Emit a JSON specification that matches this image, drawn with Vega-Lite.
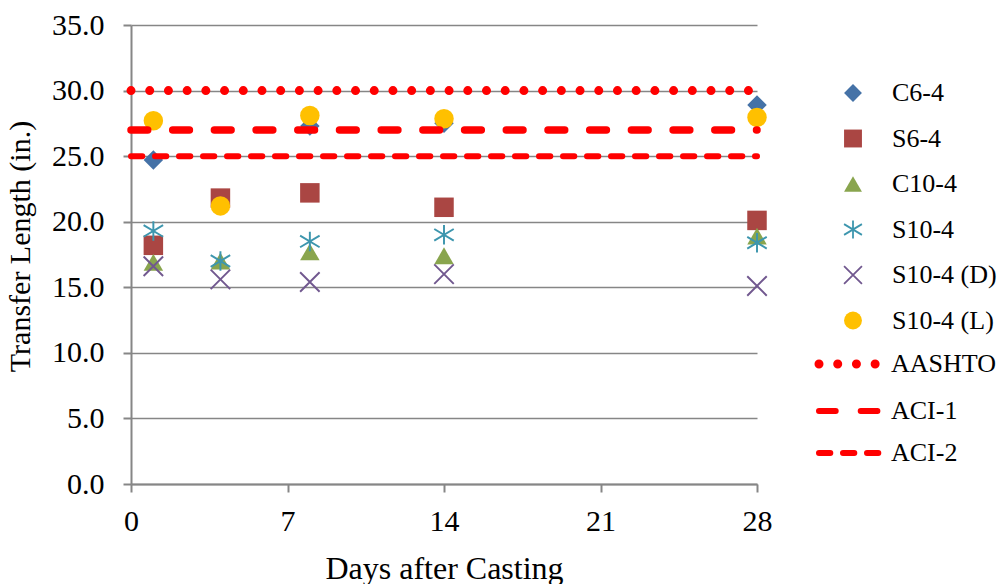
{
  "$schema": "https://vega.github.io/schema/vega-lite/v6.json",
  "width": 626,
  "height": 459,
  "autosize": {"type": "none"},
  "padding": {"left": 131, "top": 25, "right": 244, "bottom": 100},
  "background": "white",
  "config": {
    "font": "Liberation Serif",
    "view": {"stroke": null},
    "axis": {"labelColor": "black", "titleColor": "black", "titleFontWeight": "normal", "domainColor": "#868686", "tickColor": "#868686", "domainWidth": 2, "tickWidth": 2, "labelFont": "Liberation Serif", "titleFont": "Liberation Serif"},
    "legend": {"labelFont": "Liberation Serif", "labelColor": "black"}
  },
  "datasets": {
    "pts": [
      {"series": "C6-4", "day": 1, "value": 24.7},
      {"series": "C6-4", "day": 8, "value": 27.3},
      {"series": "C6-4", "day": 14, "value": 27.5},
      {"series": "C6-4", "day": 28, "value": 28.9},
      {"series": "S6-4", "day": 1, "value": 18.2},
      {"series": "S6-4", "day": 4, "value": 21.8},
      {"series": "S6-4", "day": 8, "value": 22.2},
      {"series": "S6-4", "day": 14, "value": 21.1},
      {"series": "S6-4", "day": 28, "value": 20.1},
      {"series": "C10-4", "day": 1, "value": 16.9},
      {"series": "C10-4", "day": 4, "value": 17.0},
      {"series": "C10-4", "day": 8, "value": 17.7},
      {"series": "C10-4", "day": 14, "value": 17.4},
      {"series": "C10-4", "day": 28, "value": 18.9},
      {"series": "S10-4", "day": 1, "value": 19.3},
      {"series": "S10-4", "day": 4, "value": 17.0},
      {"series": "S10-4", "day": 8, "value": 18.5},
      {"series": "S10-4", "day": 14, "value": 19.0},
      {"series": "S10-4", "day": 28, "value": 18.4},
      {"series": "S10-4 (D)", "day": 1, "value": 16.6},
      {"series": "S10-4 (D)", "day": 4, "value": 15.6},
      {"series": "S10-4 (D)", "day": 8, "value": 15.4},
      {"series": "S10-4 (D)", "day": 14, "value": 16.0},
      {"series": "S10-4 (D)", "day": 28, "value": 15.1},
      {"series": "S10-4 (L)", "day": 1, "value": 27.7},
      {"series": "S10-4 (L)", "day": 4, "value": 21.2},
      {"series": "S10-4 (L)", "day": 8, "value": 28.1},
      {"series": "S10-4 (L)", "day": 14, "value": 27.85},
      {"series": "S10-4 (L)", "day": 28, "value": 27.95}
    ],
    "lines": [
      {"line": "AASHTO", "day": 0, "value": 30},
      {"line": "AASHTO", "day": 28, "value": 30},
      {"line": "ACI-1", "day": 0, "value": 27},
      {"line": "ACI-1", "day": 28, "value": 27},
      {"line": "ACI-2", "day": 0, "value": 25},
      {"line": "ACI-2", "day": 28, "value": 25}
    ]
  },
  "encoding": {
    "x": {"field": "day", "type": "quantitative", "scale": {"domain": [0, 28], "nice": false},
      "axis": {"values": [0, 7, 14, 21, 28], "grid": false, "title": "Days after Casting", "labelFontSize": 30, "titleFontSize": 32, "tickSize": 8, "labelPadding": 14, "titlePadding": 17, "labelFlush": false}},
    "y": {"field": "value", "type": "quantitative", "scale": {"domain": [0, 35], "nice": false},
      "axis": {"values": [0, 5, 10, 15, 20, 25, 30, 35], "format": ".1f", "grid": true, "gridColor": "#868686", "gridWidth": 1.5, "title": "Transfer Length (in.)", "labelFontSize": 30, "titleFontSize": 30, "tickSize": 8, "labelPadding": 19, "titlePadding": 16, "titleY": 221, "labelFlush": false}}
  },
  "layer": [
    {
      "data": {"name": "pts"},
      "mark": {"type": "point", "filled": true, "size": 380, "strokeWidth": 0, "opacity": 1},
      "encoding": {
        "color": {"field": "series", "type": "nominal",
          "scale": {"domain": ["C6-4", "S6-4", "C10-4", "S10-4", "S10-4 (D)", "S10-4 (L)"], "range": ["#4572A7", "#AA4643", "#89A54E", "#3D96AE", "#71588F", "#FFC000"]},
          "legend": {"title": null, "orient": "none", "legendX": 709, "legendY": 55, "labelFontSize": 26, "symbolSize": 320, "symbolStrokeWidth": 0, "labelOffset": 26, "rowPadding": 19.5, "padding": 0, "symbolOpacity": 1}},
        "shape": {"field": "series", "type": "nominal",
          "scale": {"domain": ["C6-4", "S6-4", "C10-4", "S10-4", "S10-4 (D)", "S10-4 (L)"], "range": ["diamond", "square", "triangle-up", "M-0.1,-1L0.1,-1L0.1,1L-0.1,1Z M-0.949,-0.686L1.051,0.514L0.949,0.686L-1.051,-0.514Z M-1.051,0.514L0.949,-0.686L1.051,-0.514L-0.949,0.686Z", "M-0.93,-1.07L1.07,0.93L0.93,1.07L-1.07,-0.93Z M-1.07,0.93L0.93,-1.07L1.07,-0.93L-0.93,1.07Z", "circle"]},
          "legend": {"title": null, "orient": "none", "legendX": 709, "legendY": 55, "labelFontSize": 26, "symbolSize": 320, "symbolStrokeWidth": 0, "labelOffset": 26, "rowPadding": 19.5, "padding": 0, "symbolOpacity": 1}}
      }
    },
    {
      "data": {"name": "lines"},
      "mark": {"type": "line", "strokeCap": "round"},
      "encoding": {
        "detail": {"field": "line", "type": "nominal"},
        "color": {"field": "line", "type": "nominal",
          "scale": {"domain": ["AASHTO", "ACI-1", "ACI-2"], "range": ["#FF0000", "#FF0000", "#FF0000"]},
          "legend": {"title": null, "orient": "none", "legendX": 707, "legendY": 326, "labelFontSize": 26, "symbolSize": 4096, "symbolStrokeWidth": 6, "labelOffset": 27, "rowPadding": 16, "padding": 0,
            "encode": {"symbols": {"update": {"strokeCap": {"value": "round"}, "strokeWidth": {"signal": "datum.value === 'AASHTO' ? 9 : 6"}}}}}},
        "strokeDash": {"field": "line", "type": "nominal",
          "scale": {"domain": ["AASHTO", "ACI-1", "ACI-2"], "range": [[0.01, 18.7], [16.7, 25], [11.3, 12.7]]},
          "legend": {"title": null, "orient": "none", "legendX": 707, "legendY": 326, "labelFontSize": 26, "symbolSize": 4096, "symbolStrokeWidth": 6, "labelOffset": 27, "rowPadding": 16, "padding": 0,
            "encode": {"symbols": {"update": {"strokeCap": {"value": "round"}, "strokeWidth": {"signal": "datum.value === 'AASHTO' ? 9 : 6"}}}}}},
        "strokeWidth": {"field": "line", "type": "nominal",
          "scale": {"domain": ["AASHTO", "ACI-1", "ACI-2"], "range": [9, 6, 6]}, "legend": null}
      }
    }
  ],
  "resolve": {"scale": {"color": "independent", "strokeDash": "independent", "shape": "independent"}, "legend": {"color": "independent", "shape": "independent", "strokeDash": "independent"}}
}
